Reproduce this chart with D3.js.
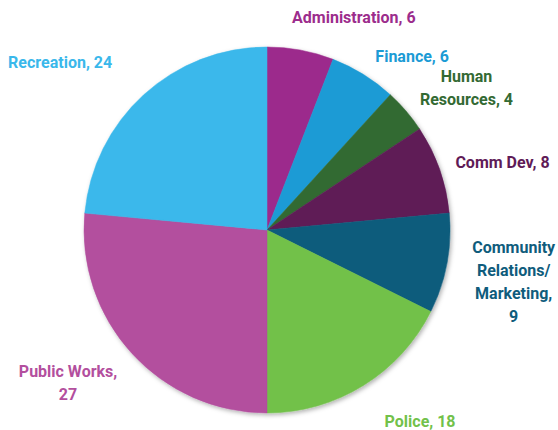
<!DOCTYPE html>
<html><head><meta charset="utf-8">
<script src="https://cdn.jsdelivr.net/npm/d3@7"></script>
<style>html,body{margin:0;padding:0;background:#fff}svg{display:block}</style>
</head><body><svg id="c" width="558" height="430"></svg>
<script>
const categories = ["Administration","Finance","Human Resources","Comm Dev","Community Relations/ Marketing","Police","Public Works","Recreation"];
const values = [6,6,4,8,9,18,27,24];
const colors = ["#9C2C8C","#1B9BD5","#336A33","#5F1B57","#0F5C7C","#72C14A","#B34F9E","#3AB8EB"];
// label lines (text), in category order
const labelLines = [
  ["Administration, 6"],
  ["Finance, 6"],
  ["Human","Resources, 4"],
  ["Comm Dev, 8"],
  ["Community","Relations/","Marketing,","9"],
  ["Police, 18"],
  ["Public Works,","27"],
  ["Recreation, 24"]
];
// layout: [angle tweak in degrees, label radius]
const labelLayout = [[11.6,230],[8.2,226],[5.1,245],[3.4,245],[1.2,252],[-6.9,245],[4.8,251],[-8.7,266]];

const W=558,H=430,cx=267,cy=230,R=183,lh=23;
const svg=d3.select("#c");
const defs=svg.append("defs");
const f=defs.append("filter").attr("id","sh").attr("x","-20%").attr("y","-20%").attr("width","140%").attr("height","140%");
f.append("feDropShadow").attr("dx",1.5).attr("dy",2).attr("stdDeviation",2.2).attr("flood-color","#000").attr("flood-opacity",0.3);

const pie=d3.pie().sort(null).value(d=>d)(values);
const arc=d3.arc().innerRadius(0).outerRadius(R);
const g=svg.append("g").attr("transform",`translate(${cx},${cy})`);
g.append("g").attr("filter","url(#sh)").selectAll("path").data(pie).join("path")
  .attr("d",arc).attr("fill",(d,i)=>colors[i]).attr("stroke",(d,i)=>colors[i]).attr("stroke-width",0.5);

const lab=g.selectAll("text.l").data(pie).join("text").attr("class","l")
  .attr("font-family","Roboto, 'Open Sans', sans-serif").attr("font-weight",700).attr("font-size","16px")
  .attr("text-anchor","middle").attr("fill",(d,i)=>colors[i])
  .each(function(d,i){
    const a=((d.startAngle+d.endAngle)/2)+labelLayout[i][0]*Math.PI/180;
    const r=labelLayout[i][1];
    const x=Math.sin(a)*r, y=-Math.cos(a)*r;
    const lines=labelLines[i];
    const y0=y-(lines.length-1)*lh/2;
    d3.select(this).selectAll("tspan").data(lines).join("tspan")
      .attr("x",x).attr("y",(t,k)=>y0+k*lh).attr("dy","0.35em").text(t=>t);
  });
</script></body></html>
